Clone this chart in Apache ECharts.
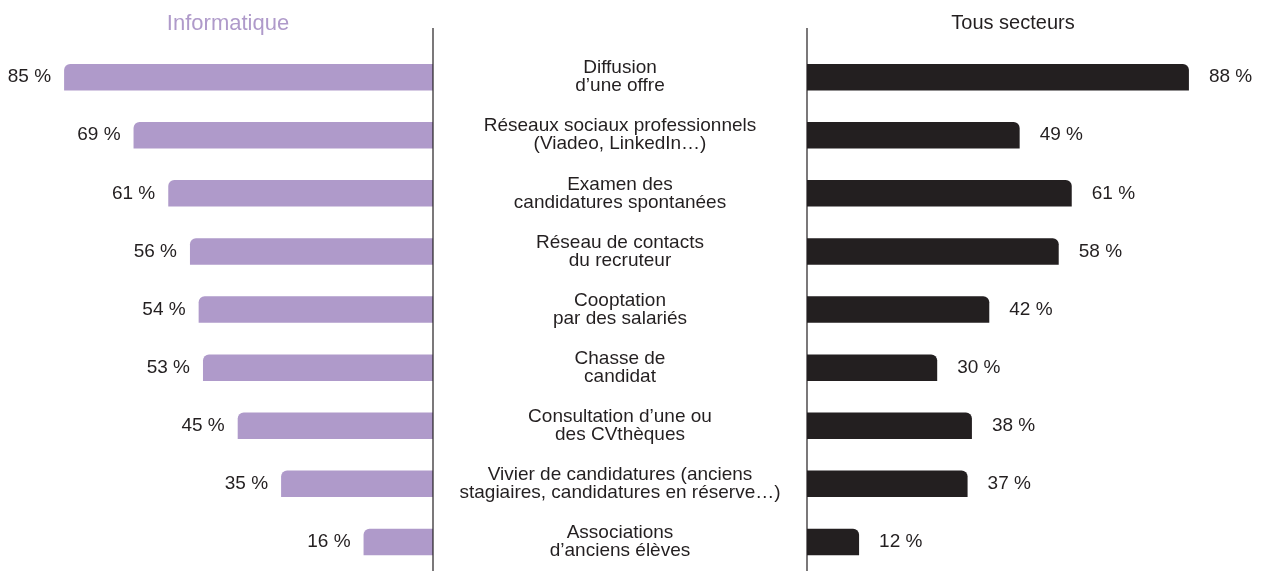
<!DOCTYPE html>
<html><head><meta charset="utf-8">
<script src="https://cdn.jsdelivr.net/npm/echarts@6/dist/echarts.min.js"></script>
<style>html,body{margin:0;padding:0;background:#fff}#c{width:1265px;height:571px}</style>
</head><body><div id="c"></div>
<script>
const categories = [
  "Diffusion\nd’une offre",
  "Réseaux sociaux professionnels\n(Viadeo, LinkedIn…)",
  "Examen des\ncandidatures spontanées",
  "Réseau de contacts\ndu recruteur",
  "Cooptation\npar des salariés",
  "Chasse de\ncandidat",
  "Consultation d’une ou\ndes CVthèques",
  "Vivier de candidatures (anciens\nstagiaires, candidatures en réserve…)",
  "Associations\nd’anciens élèves"
];
const informatique = [85, 69, 61, 56, 54, 53, 45, 35, 16];
const tousSecteurs = [88, 49, 61, 58, 42, 30, 38, 37, 12];
const titles = ["Informatique", "Tous secteurs"];

const FONT = "'Liberation Sans', Arial, sans-serif";
const PURPLE = "#af9aca";
const DARK = "#231f20";
const MAXV = 90;
const PXPER = 4.34;
const W = MAXV * PXPER;

const chart = echarts.init(document.getElementById('c'), null, {renderer: 'canvas'});
chart.setOption({
  animation: false,
  textStyle: {fontFamily: FONT},
  title: [
    {text: titles[0], left: 223, top: 8, textAlign: 'center',
     textStyle: {color: PURPLE, fontSize: 22, fontWeight: 'normal', fontFamily: FONT}},
    {text: titles[1], left: 1008, top: 8, textAlign: 'center',
     textStyle: {color: DARK, fontSize: 20, fontWeight: 'normal', fontFamily: FONT}}
  ],
  grid: [
    {left: 433 - W, width: W, top: 48.1, height: 528.5, containLabel: false},
    {left: 807, width: W, top: 48.1, height: 528.5, containLabel: false}
  ],
  xAxis: [
    {gridIndex: 0, type: 'value', min: 0, max: MAXV, inverse: true, show: false},
    {gridIndex: 1, type: 'value', min: 0, max: MAXV, show: false}
  ],
  yAxis: [
    {gridIndex: 0, type: 'category', data: categories, inverse: true,
     axisLine: {show: false}, axisTick: {show: false}, axisLabel: {show: false}},
    {gridIndex: 1, type: 'category', data: categories, inverse: true,
     axisLine: {show: false}, axisTick: {show: false},
     axisLabel: {show: true, align: 'center', margin: 187, color: DARK,
       fontSize: 19, lineHeight: 18, fontFamily: FONT}}
  ],
  series: [
    {type: 'bar', xAxisIndex: 0, yAxisIndex: 0, data: informatique, barWidth: 26.5,
     itemStyle: {color: PURPLE, borderRadius: [6, 0, 0, 0]},
     label: {show: true, position: 'left', distance: 13, formatter: '{c} %',
       color: DARK, fontSize: 19, fontFamily: FONT}},
    {type: 'bar', xAxisIndex: 1, yAxisIndex: 1, data: tousSecteurs, barWidth: 26.5,
     itemStyle: {color: DARK, borderRadius: [0, 6, 0, 0]},
     label: {show: true, position: 'right', distance: 20, formatter: '{c} %',
       color: DARK, fontSize: 19, fontFamily: FONT}}
  ]
});
const x0 = chart.convertToPixel({xAxisIndex: 0}, 0);
const x1 = chart.convertToPixel({xAxisIndex: 1}, 0);
chart.setOption({
  graphic: [
    {type: 'line', shape: {x1: x0, y1: 28, x2: x0, y2: 571}, style: {stroke: DARK, lineWidth: 1.2}, z: 10},
    {type: 'line', shape: {x1: x1, y1: 28, x2: x1, y2: 571}, style: {stroke: DARK, lineWidth: 1.2}, z: 10}
  ]
});
</script></body></html>
